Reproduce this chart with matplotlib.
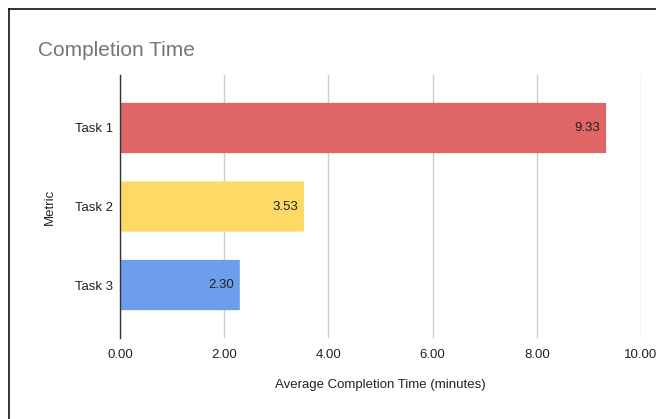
import matplotlib
matplotlib.use("Agg")
import matplotlib.pyplot as plt
from matplotlib.lines import Line2D
from matplotlib.patches import FancyBboxPatch

tasks = ["Task 1", "Task 2", "Task 3"]
avg_minutes = [9.33, 3.53, 2.30]
bar_colors = ["#E06666", "#FFD966", "#6D9EEB"]
x_ticks = [0, 2, 4, 6, 8, 10]
x_tick_labels = ["0.00", "2.00", "4.00", "6.00", "8.00", "10.00"]

plt.rcParams["font.family"] = ["Liberation Sans", "DejaVu Sans"]

W, H = 656, 419
fig = plt.figure(figsize=(W / 100, H / 100), dpi=100)
fig.patch.set_facecolor("white")

# axes box in pixel coordinates
left, right, top, bottom = 120, 641, 75, 338
ax = fig.add_axes([left / W, 1 - bottom / H, (right - left) / W, (bottom - top) / H])

ypos = list(range(len(tasks)))
bar_h = 0.64
for y, v, c in zip(ypos, avg_minutes, bar_colors):
    patch = FancyBboxPatch((0, y - bar_h / 2), v, bar_h,
                           boxstyle="round,pad=0,rounding_size=0.06",
                           mutation_aspect=1 / 25, facecolor=c, edgecolor="none", zorder=3)
    ax.add_patch(patch)
    ax.annotate(f"{v:.2f}", xy=(v, y), xytext=(-4, 0), textcoords="offset points",
                ha="right", va="center", fontsize=9.5, color="#222222", zorder=4)

ax.set_xlim(0, 10)
ax.set_ylim(len(tasks) - 1 + 0.675, -0.675)
ax.set_xticks(x_ticks)
ax.set_xticklabels(x_tick_labels)
ax.set_yticks(ypos)
ax.set_yticklabels(tasks)
ax.tick_params(axis="both", length=0, labelsize=9.5, colors="#222222")
ax.tick_params(axis="x", pad=8)
ax.tick_params(axis="y", pad=5)
ax.grid(axis="x", color="#CCCCCC", linewidth=1, zorder=0)
ax.set_axisbelow(True)
for s in ["top", "right", "bottom"]:
    ax.spines[s].set_visible(False)
ax.spines["left"].set_color("#333333")
ax.spines["left"].set_linewidth(1)
ax.spines["left"].set_zorder(5)

ax.set_xlabel("Average Completion Time (minutes)", fontsize=9.5, color="#222222", labelpad=13)
ax.set_ylabel("Metric", fontsize=9.5, color="#222222", labelpad=14)

fig.text(38 / W, 1 - 50 / H, "Completion Time", fontsize=15, color="#757575",
         ha="left", va="center")

# outer frame (top and left edges)
fig.add_artist(Line2D([9 / W, 1], [1 - 9 / H, 1 - 9 / H], color="#111111", linewidth=1.2,
                      transform=fig.transFigure))
fig.add_artist(Line2D([9 / W, 9 / W], [0, 1 - 9 / H], color="#111111", linewidth=1.2,
                      transform=fig.transFigure))

fig.savefig("out.png", dpi=100)
